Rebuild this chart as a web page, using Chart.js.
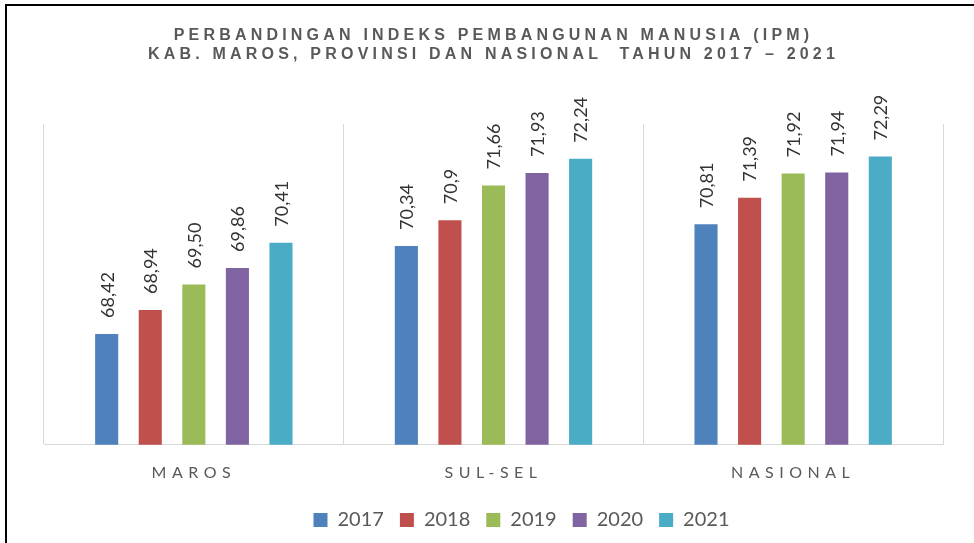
<!DOCTYPE html>
<html>
<head>
<meta charset="utf-8">
<script src="https://cdn.jsdelivr.net/npm/chart.js@4/dist/chart.umd.min.js"></script>
<style>
  html, body { margin: 0; padding: 0; background: #fff; }
  #wrap { position: relative; width: 974px; height: 543px; overflow: hidden; }
  #frame { position: absolute; left: 5px; top: 4px; right: 0; bottom: 0;
           border-top: 2px solid #000; border-left: 2px solid #000; pointer-events: none; }
  canvas { position: absolute; left: 0; top: 0; }
</style>
</head>
<body>
<div id="wrap">
  <canvas id="ipmChart" width="974" height="543"></canvas>
  <div id="frame"></div>
</div>
<script>
// Chart data
const categories = ['MAROS', 'SUL-SEL', 'NASIONAL'];
const years = ['2017', '2018', '2019', '2020', '2021'];

const ipm2017 = [68.42, 70.34, 70.81];
const ipm2018 = [68.94, 70.90, 71.39];
const ipm2019 = [69.50, 71.66, 71.92];
const ipm2020 = [69.86, 71.93, 71.94];
const ipm2021 = [70.41, 72.24, 72.29];

// value labels as printed on the chart
const labels2017 = ['68,42', '70,34', '70,81'];
const labels2018 = ['68,94', '70,9', '71,39'];
const labels2019 = ['69,50', '71,66', '71,92'];
const labels2020 = ['69,86', '71,93', '71,94'];
const labels2021 = ['70,41', '72,24', '72,29'];

const yMin = 66;
const yMax = 73;

const seriesValues = [ipm2017, ipm2018, ipm2019, ipm2020, ipm2021];
const seriesLabels = [labels2017, labels2018, labels2019, labels2020, labels2021];
const seriesColors = ['#4F81BD', '#C0504D', '#9BBB59', '#8064A2', '#4BACC6'];

const ctx = document.getElementById('ipmChart').getContext('2d');

// Draw the rotated value labels above each bar
const valueLabels = {
    id: 'valueLabels',
    afterDatasetsDraw(chart) {
        const c = chart.ctx;
        chart.data.datasets.forEach((ds, i) => {
            const meta = chart.getDatasetMeta(i);
            meta.data.forEach((bar, j) => {
                c.save();
                c.translate(bar.x + 1, bar.y - 16);
                c.rotate(-Math.PI / 2);
                c.font = '18px Lato';
                c.fillStyle = '#333333';
                c.textAlign = 'left';
                c.textBaseline = 'middle';
                c.fillText(seriesLabels[i][j], 0, 0);
                c.restore();
            });
        });
    }
};

// Canvas letterSpacing for the title and the category labels
function wrapSpacing(obj, fn, spacing) {
    if (!obj || obj['_spaced_' + fn]) return;
    const orig = obj[fn];
    obj[fn] = function (...args) {
        this.ctx.save();
        this.ctx.letterSpacing = spacing;
        orig.apply(this, args);
        this.ctx.restore();
    };
    obj['_spaced_' + fn] = true;
}

const spacing = {
    id: 'spacing',
    afterLayout(chart) {
        // the legend sits a bit right of centre and higher in the original
        const lg = chart.legend;
        lg.left += 28;
        lg.right += 28;
        lg.top -= 6;
        lg.bottom -= 6;
    },
    beforeDraw(chart) {
        wrapSpacing(chart.titleBlock, 'draw', '4.2px');
        wrapSpacing(chart.scales.x, 'drawLabels', '5.5px');
    }
};

const myChart = new Chart(ctx, {
    type: 'bar',
    data: {
        labels: categories,
        datasets: years.map((y, i) => ({
            label: y,
            data: seriesValues[i],
            backgroundColor: seriesColors[i],
            borderWidth: 0,
            categoryPercentage: 0.727,
            barPercentage: 0.53
        }))
    },
    options: {
        responsive: false,
        animation: false,
        layout: {
            padding: { left: 44, right: 31, top: 0, bottom: -3 }
        },
        plugins: {
            title: {
                display: true,
                text: ['PERBANDINGAN INDEKS PEMBANGUNAN MANUSIA (IPM)',
                       'KAB. MAROS, PROVINSI DAN NASIONAL  TAHUN 2017 \u2013 2021'],
                color: '#595959',
                font: { family: 'Liberation Sans', size: 16, weight: 'bold', lineHeight: 1.2 },
                padding: { top: 26, bottom: 59.6 }
            },
            legend: {
                position: 'bottom',
                labels: {
                    boxWidth: 14,
                    boxHeight: 14,
                    padding: 16,
                    color: '#595959',
                    font: { family: 'Lato', size: 20 }
                }
            },
            tooltip: { enabled: false }
        },
        scales: {
            x: {
                grid: {
                    display: true,
                    offset: true,
                    color: '#D9D9D9',
                    lineWidth: 1,
                    drawTicks: false
                },
                border: { display: true, color: '#D9D9D9', width: 1 },
                ticks: {
                    padding: 18,
                    color: '#595959',
                    font: { family: 'Lato', size: 16 }
                }
            },
            y: {
                display: false,
                min: yMin,
                max: yMax
            }
        }
    },
    plugins: [valueLabels, spacing]
});
</script>
</body>
</html>
